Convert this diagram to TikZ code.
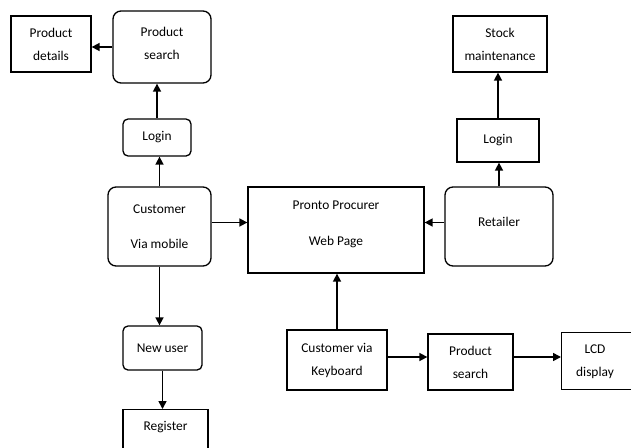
\documentclass[tikz,border=0pt]{standalone}
\usepackage{fontspec}
\setmainfont{Carlito}
\usetikzlibrary{arrows.meta}

\begin{document}
\begin{tikzpicture}[x=1pt,y=-1pt,
  every node/.style={font=\fontsize{13.4}{23}\selectfont,align=center,inner sep=0pt},
  sqbox/.style={draw,line width=1.3pt},
  rbox/.style={draw,line width=1.3pt,rounded corners=8pt},
  sbox/.style={draw,line width=1.3pt,rounded corners=5pt},
  flow/.style={line width=1.6pt,-{Triangle[length=8pt,width=8pt]}}]
\useasboundingbox (0,0) rectangle (631,447);
\clip (0,0) rectangle (631,447);

% left branch: mobile customer
\node[sqbox,minimum width=80pt,minimum height=56pt] (pd) at (51,44) {Product\\details};
\node[rbox,minimum width=98pt,minimum height=72pt] (ps) at (162,47) {};
\node at ([yshift=4pt]ps.center) {Product\\search};
\node[sbox,minimum width=68pt,minimum height=37pt] (lg1) at (157,137.5) {Login};
\node[rbox,minimum width=103pt,minimum height=79pt] (cust) at (159.5,226.5) {Customer\\[12pt]Via mobile};
\node[sbox,minimum width=79pt,minimum height=44pt] (nu) at (162.5,348) {New user};
\node[sqbox,minimum width=85pt,minimum height=60pt,anchor=north] (reg) at (165.5,409) {};
\node at (165.5,427) {Register};

% centre: web page
\node[sqbox,minimum width=176pt,minimum height=86pt] (web) at (336,230) {};
\node at ([yshift=6pt]web.center) {Pronto Procurer\\[13pt]Web Page};

% right branch: retailer
\node[rbox,minimum width=108pt,minimum height=79pt] (ret) at (499,226.5) {};
\node at ([yshift=5pt]ret.center) {Retailer};
\node[sqbox,minimum width=82pt,minimum height=43pt] (lg2) at (498,140.5) {Login};
\node[sqbox,minimum width=94pt,minimum height=56pt] (stk) at (500,44) {Stock\\maintenance};

% bottom row: keyboard customer
\node[sqbox,minimum width=100pt,minimum height=60pt] (kb) at (337,360) {Customer via\\Keyboard};
\node[sqbox,minimum width=85pt,minimum height=56pt] (ps2) at (470.5,362) {Product\\search};
\node[sqbox,minimum width=90pt,minimum height=57pt,anchor=west] (lcd) at (561,361) {};
\node at (595,362) {LCD\\display};

% connectors
\draw[flow] (ps.west) -- (ps.west -| pd.east);
\draw[flow] (cust.north) -- (cust.north |- lg1.south);
\draw[flow] (lg1.north) -- (lg1.north |- ps.south);
\draw[flow] (cust.east) ++(0,-4) coordinate (ce) -- (ce -| web.west);
\draw[flow] (cust.south) -- (cust.south |- nu.north);
\draw[flow] (nu.south) -- (nu.south |- reg.north);
\draw[flow] (ret.west) ++(0,-4) coordinate (rw) -- (rw -| web.east);
\draw[flow] (ret.north) -- (ret.north |- lg2.south);
\draw[flow] (lg2.north) -- (lg2.north |- stk.south);
\draw[flow] (kb.north) -- (kb.north |- web.south);
\draw[flow] (kb.east) ++(0,-3) coordinate (ke) -- (ke -| ps2.west);
\draw[flow] (ps2.east) ++(0,-5) coordinate (pe) -- (pe -| lcd.west);
\end{tikzpicture}
\end{document}
